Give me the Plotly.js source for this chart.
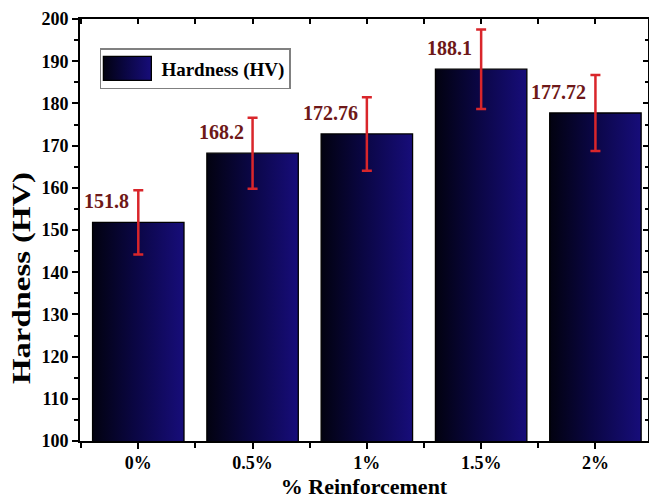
<!DOCTYPE html>
<html><head><meta charset="utf-8">
<script src="https://cdn.plot.ly/plotly-3.0.1.min.js"></script>
<style>html,body{margin:0;padding:0;background:#fff}</style>
</head><body><div id="chart" style="width:649px;height:498px"></div>
<script>
const categories = ['0%', '0.5%', '1%', '1.5%', '2%'];
const hardness = [151.8, 168.2, 172.76, 188.1, 177.72];
const hardnessErr = [7.6, 8.4, 8.7, 9.4, 9.0];
const valueLabels = ['151.8', '168.2', '172.76', '188.1', '177.72'];
const yTickVals = [100, 110, 120, 130, 140, 150, 160, 170, 180, 190, 200];

const xIdx = categories.map((c, i) => i);
const serif = 'Liberation Serif, Times New Roman, serif';
const xRange = [-0.51, 4.46];
const yRange = [100, 200];

const data = [
  {
    type: 'bar', name: 'Hardness (HV)', x: xIdx, y: hardness, width: 0.8,
    marker: {color: '#0b0640', line: {color: '#000', width: 1.3}},
    error_y: {type: 'data', array: hardnessErr, visible: true, color: '#d9262b', thickness: 2.5, width: 5},
    hoverinfo: 'skip'
  },
  {
    type: 'scatter', mode: 'none', x: xIdx, y: hardness, xaxis: 'x2', yaxis: 'y2',
    showlegend: false, hoverinfo: 'skip'
  }
];

const annotations = xIdx.map(i => ({
  x: i, y: hardness[i], xref: 'x', yref: 'y', text: valueLabels[i],
  xanchor: 'right', yanchor: 'bottom', xshift: -7, yshift: 8, showarrow: false,
  font: {family: serif, size: 20, color: '#6e1818', weight: 'bold'}
}));

const layout = {
  width: 649, height: 498,
  margin: {l: 80, r: 1, t: 19, b: 57},
  paper_bgcolor: '#fff', plot_bgcolor: '#fff',
  showlegend: true,
  font: {family: serif, color: '#000'},
  xaxis: {
    range: xRange, tickmode: 'array', tickvals: xIdx, ticktext: categories,
    ticks: 'outside', ticklen: 6, tickwidth: 2, tickcolor: '#000',
    showline: true, linewidth: 2, linecolor: '#000', showgrid: false, zeroline: false,
    minor: {tickmode: 'linear', tick0: -0.5, dtick: 1, ticks: 'outside', ticklen: 5, tickwidth: 2, tickcolor: '#000', showgrid: false},
    tickfont: {family: serif, size: 18, weight: 'bold', color: '#000'},
    title: {text: '% Reinforcement', font: {family: serif, size: 22, weight: 'bold', color: '#000'}, standoff: 8},
    automargin: false
  },
  yaxis: {
    range: yRange, tickmode: 'array', tickvals: yTickVals,
    ticks: 'outside', ticklen: 6, tickwidth: 2, tickcolor: '#000',
    showline: true, linewidth: 2, linecolor: '#000', showgrid: false, zeroline: false,
    minor: {tickmode: 'linear', tick0: 105, dtick: 10, ticks: 'outside', ticklen: 4, tickwidth: 2, tickcolor: '#000', showgrid: false},
    tickfont: {family: serif, size: 18, weight: 'bold', color: '#000'},
    title: {text: 'Hardness (HV)', font: {family: serif, size: 26, weight: 'bold', color: '#000'}, standoff: 6},
    automargin: false
  },
  xaxis2: {
    overlaying: 'x', side: 'top', anchor: 'y2', range: xRange,
    tickmode: 'array', tickvals: xIdx, showticklabels: false,
    ticks: 'inside', ticklen: 5, tickwidth: 2, tickcolor: '#000',
    minor: {tickmode: 'linear', tick0: -0.5, dtick: 1, ticks: 'inside', ticklen: 5, tickwidth: 2, tickcolor: '#000', showgrid: false},
    showline: true, linewidth: 2, linecolor: '#000', showgrid: false, zeroline: false
  },
  yaxis2: {
    overlaying: 'y', side: 'right', anchor: 'x2', range: yRange,
    tickmode: 'array', tickvals: yTickVals, showticklabels: false,
    ticks: 'inside', ticklen: 5, tickwidth: 2, tickcolor: '#000',
    minor: {tickmode: 'linear', tick0: 105, dtick: 10, ticks: 'inside', ticklen: 3, tickwidth: 2, tickcolor: '#000', showgrid: false},
    showline: true, linewidth: 2, linecolor: '#000', showgrid: false, zeroline: false
  },
  legend: {
    x: 0.035, y: 0.931, xanchor: 'left', yanchor: 'top',
    bgcolor: '#fff', bordercolor: '#808080', borderwidth: 1.5,
    font: {family: serif, size: 19, weight: 'bold', color: '#000'},
    itemwidth: 50
  },
  annotations: annotations
};

Plotly.newPlot('chart', data, layout, {staticPlot: true}).then(gd => {
  const ns = 'http://www.w3.org/2000/svg';
  const svg = gd.querySelector('svg.main-svg');
  let defs = svg.querySelector('defs');
  const lg = document.createElementNS(ns, 'linearGradient');
  lg.setAttribute('id', 'barGrad');
  lg.setAttribute('x1', '0'); lg.setAttribute('y1', '0');
  lg.setAttribute('x2', '1'); lg.setAttribute('y2', '0');
  [['0', '#020210'], ['0.45', '#0a0642'], ['1', '#170d7a']].forEach(([o, c]) => {
    const s = document.createElementNS(ns, 'stop');
    s.setAttribute('offset', o); s.setAttribute('stop-color', c);
    lg.appendChild(s);
  });
  defs.appendChild(lg);
  gd.querySelectorAll('.barlayer .point path').forEach(p => { p.style.fill = 'url(#barGrad)'; });
  const lp = gd.querySelector('.legend .legendpoints path');
  if (lp) {
    lp.setAttribute('d', 'M20,12H-28V-12H20Z');
    lp.style.fill = 'url(#barGrad)';
    lp.style.stroke = '#000';
    lp.style.strokeWidth = '1.3px';
  }
  const yt = gd.querySelector('.ytitle');
  if (yt) {
    yt.setAttribute('textLength', '212');
    yt.setAttribute('lengthAdjust', 'spacingAndGlyphs');
    const tr = yt.getAttribute('transform') || '';
    yt.setAttribute('transform', 'translate(3,48) ' + tr);
  }
  gd.querySelectorAll('.xaxislayer-above .xtick text').forEach(t => {
    const tr = t.getAttribute('transform') || '';
    t.setAttribute('transform', 'translate(0,-2) ' + tr);
  });
  const xt = gd.querySelector('.xtitle');
  if (xt) {
    const tr = xt.getAttribute('transform') || '';
    xt.setAttribute('transform', 'translate(0,1) ' + tr);
  }
});
</script>
</body></html>
